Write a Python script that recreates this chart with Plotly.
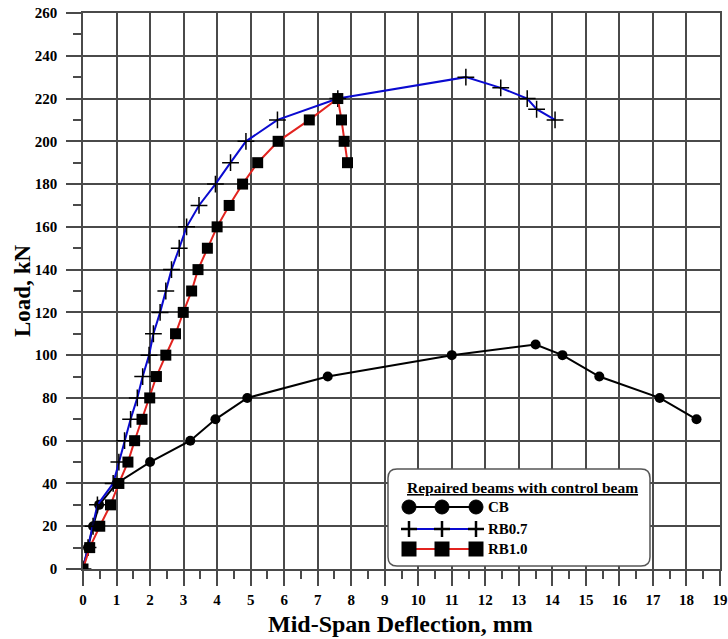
import plotly.graph_objects as go

# ---------------- data ----------------
cb_x = [0, 0.15, 0.30, 0.48, 1.00, 2.00, 3.20, 3.95, 4.90, 7.30, 11.00, 13.50, 14.30, 15.40, 17.20, 18.30]
cb_y = [0, 10, 20, 30, 40, 50, 60, 70, 80, 90, 100, 105, 100, 90, 80, 70]

rb07_x = [0, 0.15, 0.30, 0.43, 0.90, 1.07, 1.24, 1.42, 1.62, 1.78, 1.97, 2.10, 2.30, 2.47, 2.64,
          2.87, 3.09, 3.46, 3.95, 4.40, 4.86, 5.80, 7.60, 11.42, 12.46, 13.25, 13.53, 14.08]
rb07_y = [0, 10, 20, 30, 40, 50, 60, 70, 80, 90, 100, 110, 120, 130, 140,
          150, 160, 170, 180, 190, 200, 210, 220, 230, 225, 220, 215, 210]

rb10_x = [0, 0.20, 0.50, 0.82, 1.07, 1.34, 1.54, 1.76, 1.99, 2.19, 2.47, 2.76, 2.99, 3.24, 3.43,
          3.71, 4.00, 4.36, 4.76, 5.21, 5.82, 6.75, 7.60, 7.71, 7.79, 7.89]
rb10_y = [0, 10, 20, 30, 40, 50, 60, 70, 80, 90, 100, 110, 120, 130, 140,
          150, 160, 170, 180, 190, 200, 210, 220, 210, 200, 190]

series_names = ["CB", "RB0.7", "RB1.0"]
legend_title = "Repaired beams with control beam"
x_title = "Mid-Span Deflection, mm"
y_title = "Load, kN"

# ---------------- layout constants ----------------
W, H = 728, 639
ML, MR, MT, MB = 83, 8, 13, 70
PW, PH = W - ML - MR, H - MT - MB
FONT = "Times New Roman, Liberation Serif, serif"
GRID = "#4a4a4a"
BLUE = "#0a0ad0"
RED = "#e2231f"


def px(xp):
    return (xp - ML) / PW


def py(yp):
    return (H - MB - yp) / PH


fig = go.Figure()
fig.add_trace(go.Scatter(x=cb_x, y=cb_y, name=series_names[0], mode="lines+markers",
                         line=dict(color="black", width=2),
                         marker=dict(symbol="circle", size=10, color="black")))
fig.add_trace(go.Scatter(x=rb07_x, y=rb07_y, name=series_names[1], mode="lines+markers",
                         line=dict(color=BLUE, width=2),
                         marker=dict(symbol="cross-thin", size=12, color="black",
                                     line=dict(color="black", width=1.5))))
fig.add_trace(go.Scatter(x=rb10_x, y=rb10_y, name=series_names[2], mode="lines+markers",
                         line=dict(color=RED, width=2),
                         marker=dict(symbol="square", size=11, color="black")))

# ---------------- custom legend (decoration) ----------------
shapes = []
bx0, bx1, by0, by1, r = 388, 650, 469, 566, 9
X0, X1, Y0, Y1 = px(bx0), px(bx1), py(by0), py(by1)
rx, ry = r / PW, r / PH
path = (f"M {X0+rx},{Y0} L {X1-rx},{Y0} Q {X1},{Y0} {X1},{Y0-ry} "
        f"L {X1},{Y1+ry} Q {X1},{Y1} {X1-rx},{Y1} L {X0+rx},{Y1} "
        f"Q {X0},{Y1} {X0},{Y1+ry} L {X0},{Y0-ry} Q {X0},{Y0} {X0+rx},{Y0} Z")
shapes.append(dict(type="path", path=path, xref="paper", yref="paper", layer="above",
                   fillcolor="white", line=dict(color="#555555", width=1.5)))

rows = [507, 529, 549]
sample_x = [409, 442, 476]
line_cols = ["black", BLUE, RED]
for ri, yrow in enumerate(rows):
    shapes.append(dict(type="line", xref="paper", yref="paper", layer="above",
                       x0=px(sample_x[0]), x1=px(sample_x[-1]), y0=py(yrow), y1=py(yrow),
                       line=dict(color=line_cols[ri], width=2)))
    for sx in sample_x:
        if ri == 0:
            shapes.append(dict(type="circle", xref="paper", yref="paper", layer="above",
                               xsizemode="pixel", ysizemode="pixel",
                               xanchor=px(sx), yanchor=py(yrow),
                               x0=-7, x1=7, y0=-7, y1=7,
                               fillcolor="black", line=dict(color="black", width=1)))
        elif ri == 1:
            shapes.append(dict(type="line", xref="paper", yref="paper", layer="above",
                               xsizemode="pixel", ysizemode="pixel",
                               xanchor=px(sx), yanchor=py(yrow),
                               x0=-8, x1=8, y0=0, y1=0, line=dict(color="black", width=2.5)))
            shapes.append(dict(type="line", xref="paper", yref="paper", layer="above",
                               xsizemode="pixel", ysizemode="pixel",
                               xanchor=px(sx), yanchor=py(yrow),
                               x0=0, x1=0, y0=-8, y1=8, line=dict(color="black", width=2.5)))
        else:
            shapes.append(dict(type="rect", xref="paper", yref="paper", layer="above",
                               xsizemode="pixel", ysizemode="pixel",
                               xanchor=px(sx), yanchor=py(yrow),
                               x0=-7.5, x1=7.5, y0=-7.5, y1=7.5,
                               fillcolor="black", line=dict(color="black", width=0)))

annotations = [
    dict(text=f"<u><b>{legend_title}</b></u>", xref="paper", yref="paper",
         x=px(405), y=py(487), xanchor="left", yanchor="middle", showarrow=False,
         font=dict(family=FONT, size=15.5, color="black")),
    dict(text=f"<b>{x_title}</b>", xref="paper", yref="paper",
         x=px(400), y=py(624), xanchor="center", yanchor="middle", showarrow=False,
         font=dict(family=FONT, size=24, color="black")),
    dict(text=f"<b>{y_title}</b>", xref="paper", yref="paper", textangle=-90,
         x=px(22), y=py(291), xanchor="center", yanchor="middle", showarrow=False,
         font=dict(family=FONT, size=23, color="black")),
]
for ri, yrow in enumerate(rows):
    annotations.append(dict(text=f"<b>{series_names[ri]}</b>", xref="paper", yref="paper",
                            x=px(486), y=py(yrow), xanchor="left", yanchor="middle",
                            showarrow=False, font=dict(family=FONT, size=15, color="black")))

axis_common = dict(
    showgrid=True, gridcolor=GRID, gridwidth=1.5,
    showline=True, linecolor=GRID, linewidth=1.5, mirror=True,
    ticks="outside", ticklen=15, tickwidth=1.5, tickcolor=GRID,
    zeroline=False, automargin=False,
    tickfont=dict(family=FONT, size=15, color="black", weight="bold"),
)

fig.update_layout(
    width=W, height=H,
    margin=dict(l=ML, r=MR, t=MT, b=MB, autoexpand=False),
    paper_bgcolor="white", plot_bgcolor="white",
    showlegend=False,
    shapes=shapes,
    annotations=annotations,
    xaxis=dict(range=[0, 19], dtick=1, tick0=0,
               minor=dict(dtick=0.5, ticks="outside", ticklen=8, tickwidth=1.5,
                          tickcolor=GRID, showgrid=False),
               ticklabelstandoff=1, **axis_common),
    yaxis=dict(range=[0, 260], dtick=20, tick0=0,
               minor=dict(dtick=10, ticks="outside", ticklen=8, tickwidth=1.5,
                          tickcolor=GRID, showgrid=False),
               ticklabelstandoff=6, **axis_common),
)

fig.write_html(
    "out.html",
    config={"displayModeBar": False},
    post_script="document.body.style.margin='0';document.body.style.overflow='hidden';",
)
